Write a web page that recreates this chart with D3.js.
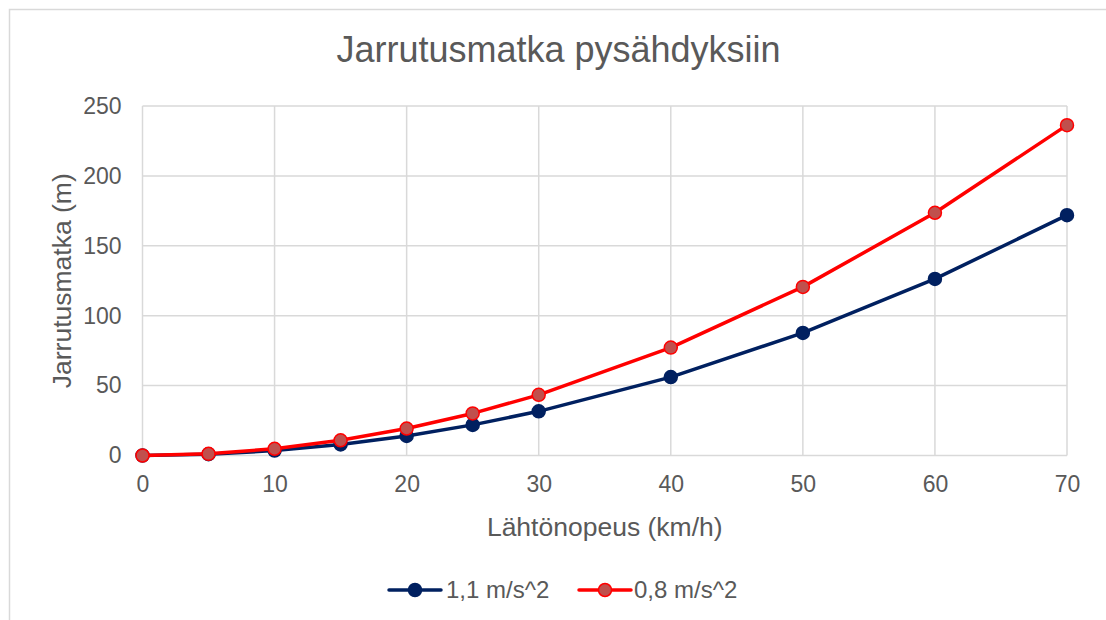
<!DOCTYPE html>
<html>
<head>
<meta charset="utf-8">
<script src="https://cdn.jsdelivr.net/npm/d3@7"></script>
<style>
  body { margin: 0; background: #fff; }
  svg { display: block; font-family: "Liberation Sans", Arial, sans-serif; }
</style>
</head>
<body>
<svg id="chart" width="1106" height="620"></svg>
<script>
// Starting speed (km/h)
const speeds = [0, 5, 10, 15, 20, 25, 30, 40, 50, 60, 70];
// Braking distance (m) for deceleration 1,1 m/s^2
const dist11 = [0, 0.9, 3.5, 7.9, 14.0, 21.9, 31.6, 56.1, 87.7, 126.3, 171.9];
// Braking distance (m) for deceleration 0,8 m/s^2
const dist08 = [0, 1.2, 4.8, 10.9, 19.3, 30.1, 43.4, 77.2, 120.6, 173.6, 236.3];
const xTicks = [0, 10, 20, 30, 40, 50, 60, 70];
const yTicks = [0, 50, 100, 150, 200, 250];
const seriesNames = ["1,1 m/s^2", "0,8 m/s^2"];

const svg = d3.select("#chart");
const textColor = "#595959";
const gridColor = "#d9d9d9";

// chart frame
svg.append("rect")
  .attr("x", 9.5).attr("y", 9.5)
  .attr("width", 1110).attr("height", 620)
  .attr("fill", "#fff").attr("stroke", gridColor).attr("stroke-width", 1.5);

const x = d3.scaleLinear().domain([0, 70]).range([142.5, 1067]);
const y = d3.scaleLinear().domain([0, 250]).range([455.5, 106]);

// gridlines
svg.append("g").selectAll("line").data(xTicks).join("line")
  .attr("x1", d => x(d)).attr("x2", d => x(d))
  .attr("y1", y(0)).attr("y2", y(250))
  .attr("stroke", gridColor).attr("stroke-width", 1.5);
svg.append("g").selectAll("line").data(yTicks).join("line")
  .attr("x1", x(0)).attr("x2", x(70))
  .attr("y1", d => y(d)).attr("y2", d => y(d))
  .attr("stroke", gridColor).attr("stroke-width", 1.5);

// axes (labels only)
const xAxis = svg.append("g").attr("transform", `translate(0,${y(0)})`)
  .call(d3.axisBottom(x).tickValues(xTicks).tickSize(0).tickPadding(20));
const yAxis = svg.append("g").attr("transform", `translate(${x(0)},0)`)
  .call(d3.axisLeft(y).tickValues(yTicks).tickSize(0).tickPadding(21));
[xAxis, yAxis].forEach(g => {
  g.select(".domain").remove();
  g.selectAll("text").attr("fill", textColor)
    .style("font-size", "23px").style("font-family", "Liberation Sans, Arial, sans-serif");
});

// title
svg.append("text").attr("x", 558.5).attr("y", 62)
  .attr("text-anchor", "middle").attr("fill", textColor)
  .style("font-size", "36px").text("Jarrutusmatka pysähdyksiin");

// axis titles
svg.append("text").attr("x", x(35)).attr("y", 536)
  .attr("text-anchor", "middle").attr("fill", textColor)
  .style("font-size", "26.5px").text("Lähtönopeus (km/h)");
svg.append("text")
  .attr("transform", `translate(71,${(y(0) + y(250)) / 2}) rotate(-90)`)
  .attr("text-anchor", "middle").attr("fill", textColor)
  .style("font-size", "26.5px").text("Jarrutusmatka (m)");

const series = [
  { name: seriesNames[0], values: dist11, line: "#002060", fill: "#002060", stroke: "#002060" },
  { name: seriesNames[1], values: dist08, line: "#ff0000", fill: "#c0504d", stroke: "#ff0000" }
];

const lineGen = d3.line().x((d, i) => x(speeds[i])).y(d => y(d));

series.forEach(s => {
  const g = svg.append("g");
  g.append("path").datum(s.values)
    .attr("d", lineGen).attr("fill", "none")
    .attr("stroke", s.line).attr("stroke-width", 3.5)
    .attr("stroke-linejoin", "round");
  g.selectAll("circle").data(s.values).join("circle")
    .attr("cx", (d, i) => x(speeds[i])).attr("cy", d => y(d))
    .attr("r", 6.5).attr("fill", s.fill)
    .attr("stroke", s.stroke).attr("stroke-width", 1.5);
});

// legend
const legendItems = [
  { s: series[0], x0: 389, tx: 446 },
  { s: series[1], x0: 579, tx: 634 }
];
legendItems.forEach(({ s, x0, tx }) => {
  const g = svg.append("g");
  g.append("line").attr("x1", x0).attr("x2", x0 + 52)
    .attr("y1", 590).attr("y2", 590)
    .attr("stroke", s.line).attr("stroke-width", 3.5).attr("stroke-linecap", "round");
  g.append("circle").attr("cx", x0 + 26).attr("cy", 590).attr("r", 6.5)
    .attr("fill", s.fill).attr("stroke", s.stroke).attr("stroke-width", 1.5);
  g.append("text").attr("x", tx).attr("y", 598)
    .attr("fill", textColor).style("font-size", "24px").text(s.name);
});
</script>
</body>
</html>
